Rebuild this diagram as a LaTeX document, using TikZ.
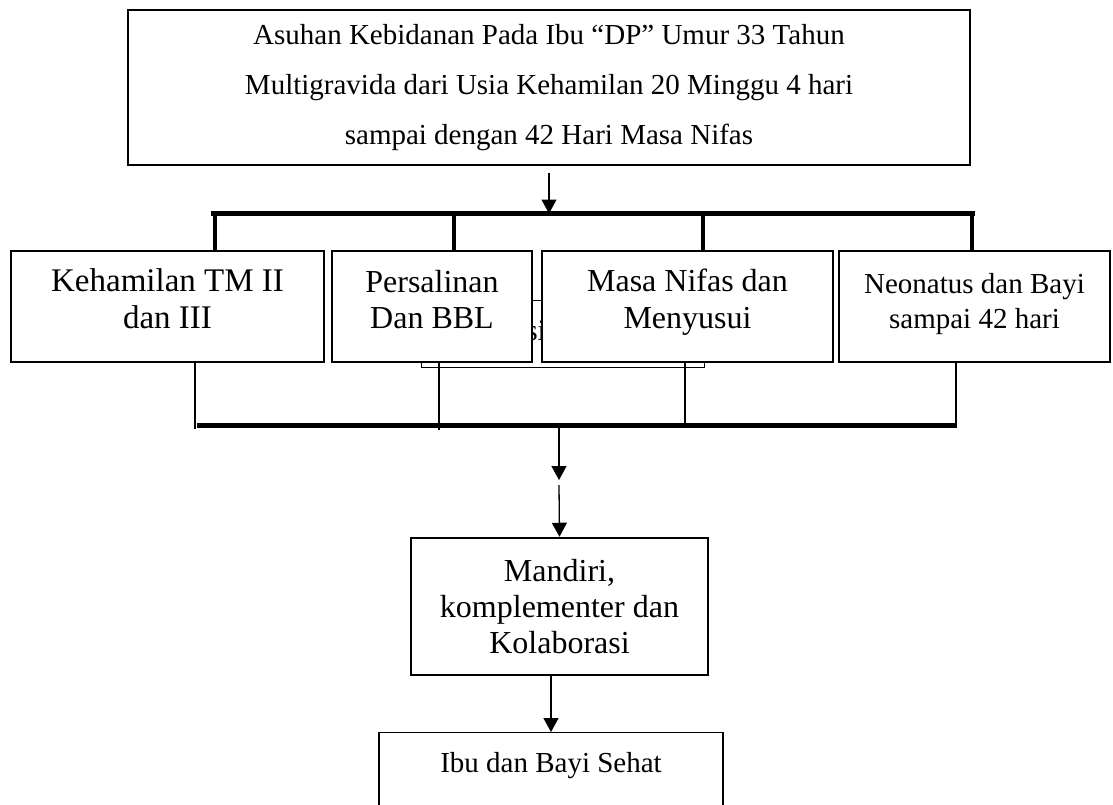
\documentclass[tikz,border=0pt]{standalone}
\usepackage{fontspec}
\setmainfont{Liberation Serif}
\usetikzlibrary{arrows.meta,positioning}

\begin{document}
\begin{tikzpicture}[
  x=1pt, y=-1pt,
  box/.style={draw, line width=1.3pt, fill=white, align=center, inner sep=0pt,
              minimum height=111pt},
  rowbox/.style={box, text height=60pt, text depth=17pt},
  arr/.style={-{Triangle[width=15pt,length=14pt]}, line width=1.3pt},
  bar/.style={line width=5pt},
  drop/.style={line width=4pt},
  link/.style={line width=1.2pt}]
\useasboundingbox (0,0) rectangle (1113,804);
\clip (0,0) rectangle (1113,804);
\node[box, minimum width=842pt, minimum height=155pt, font=\fontsize{29}{50}\selectfont]
  (top) at (549,87.5) {Asuhan Kebidanan Pada Ibu “DP” Umur 33 Tahun\\
  Multigravida dari Usia Kehamilan 20 Minggu 4 hari\\ sampai dengan 42 Hari Masa Nifas};
\node[draw, line width=1pt, minimum width=283pt, minimum height=67pt] (kol) at (562.5,333.5) {};
\node[anchor=base, font=\fontsize{30}{36}\selectfont] (kolt) at (536,340) {si};
\node[rowbox, minimum width=313pt, font=\fontsize{33}{37}\selectfont] (keh) at (167.5,306.5) {Kehamilan TM II\\ dan III};
\node[rowbox, right=6.7pt of keh, minimum width=200pt, font=\fontsize{32}{36}\selectfont] (pers) {Persalinan\\ Dan BBL};
\node[rowbox, right=8.7pt of pers, minimum width=291pt, font=\fontsize{32}{37}\selectfont] (nifas) {Masa Nifas dan\\ Menyusui};
\node[rowbox, right=4.7pt of nifas, minimum width=271pt, font=\fontsize{29}{35}\selectfont] (neo) {Neonatus dan Bayi\\ sampai 42 hari};
\node[box, line width=2.5pt, minimum width=297pt, minimum height=137pt, font=\fontsize{32}{36}\selectfont]
  (mand) at (559.5,606.5) {Mandiri,\\ komplementer dan\\ Kolaborasi};
\node[box, anchor=north, minimum height=0pt, inner ysep=20pt, text depth=60pt, minimum width=344pt,
  font=\fontsize{29}{35}\selectfont] (ibu) at (551,732) {Ibu dan Bayi Sehat};

\coordinate (tl) at (211,213.5);
\coordinate (tr) at (974.5,213.5);
\draw[bar] (tl) -- (tr);
\draw[arr] ([yshift=-7pt]top.south) -- (top.south |- tl);
\foreach \n/\x in {keh/215, pers/454, nifas/703, neo/972} {
  \coordinate (d\n) at (\x,213.5);
  \draw[drop] (d\n) -- (d\n |- \n.north);
}

\coordinate (bl) at (197,425);
\coordinate (br) at (957,425);
\foreach \n/\x/\y in {keh/195/429, pers/439/430, nifas/685/425, neo/956/425} {
  \coordinate (u\n) at (\x,\y);
  \draw[link] (u\n |- \n.south) -- (u\n);
}
\draw[bar] (bl) -- (br);

\coordinate (m0) at (559,425);
\coordinate (m1) at (559,480);
\coordinate (m2) at (559,485);
\draw[arr] (m0) -- (m1);
\draw[arr] (m2) -- (mand.north);
\draw[arr] (mand.south -| ibu.north) -- (ibu.north);
\end{tikzpicture}
\end{document}
